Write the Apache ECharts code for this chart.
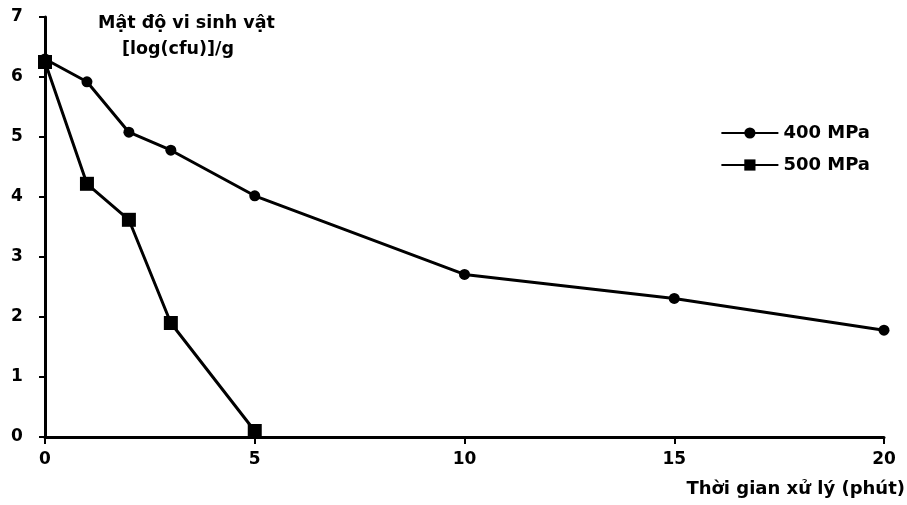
<!DOCTYPE html>
<html>
<head>
<meta charset="utf-8">
<script src="https://cdn.jsdelivr.net/npm/echarts@6/dist/echarts.min.js"></script>
<style>
  html,body{margin:0;padding:0;background:#fff;}
  #chart{width:907px;height:505px;}
</style>
</head>
<body>
<div id="chart"></div>
<script>
// thời gian xử lý (phút)
const times = [0, 1, 2, 3, 5, 10, 15, 20];
const times500 = [0, 1, 2, 3, 5];
// mật độ vi sinh vật [log(cfu)]/g
const mpa400 = [6.3, 5.92, 5.08, 4.78, 4.02, 2.71, 2.31, 1.78];
const mpa500 = [6.25, 4.22, 3.62, 1.9, 0.1];
const seriesNames = ['400 MPa', '500 MPa'];

const font = '"DejaVu Sans", sans-serif';
const chart = echarts.init(document.getElementById('chart'));

const option = {
    animation: false,
    backgroundColor: '#fff',
    textStyle: { fontFamily: font, color: '#000', fontWeight: 'bold' },
    grid: { left: 45, right: 23, top: 17, bottom: 68 },
    legend: {
        orient: 'vertical',
        right: 32,
        top: 119,
        itemWidth: 57,
        itemHeight: 14,
        itemGap: 14,
        textStyle: { fontSize: 18, fontFamily: font, fontWeight: 'bold', color: '#000' },
        data: seriesNames
    },
    graphic: [
        {
            type: 'text', left: 98, top: 14,
            style: { text: 'Mật độ vi sinh vật', font: 'bold 17.5px ' + font, fill: '#000' }
        },
        {
            type: 'text', left: 122, top: 40,
            style: { text: '[log(cfu)]/g', font: 'bold 17.5px ' + font, fill: '#000' }
        },
        {
            type: 'text', right: 2, top: 480,
            style: { text: 'Thời gian xử lý (phút)', font: 'bold 18px ' + font, fill: '#000' }
        }
    ],
    xAxis: {
        type: 'value',
        min: 0, max: 20, interval: 5,
        axisLine: { show: true, lineStyle: { color: '#000', width: 3 } },
        axisTick: { show: true, inside: false, length: 7, lineStyle: { color: '#000', width: 2 } },
        axisLabel: { fontSize: 17, fontWeight: 'bold', color: '#000', margin: 14 },
        splitLine: { show: false }
    },
    yAxis: {
        type: 'value',
        min: 0, max: 7, interval: 1,
        axisLine: { show: true, lineStyle: { color: '#000', width: 3 } },
        axisTick: { show: true, length: 6, lineStyle: { color: '#000', width: 2 } },
        axisLabel: { fontSize: 17, fontWeight: 'bold', color: '#000', margin: 34, align: 'left' },
        splitLine: { show: false }
    },
    series: [
        {
            name: seriesNames[0],
            type: 'line',
            data: times.map((t, i) => [t, mpa400[i]]),
            symbol: 'circle',
            symbolSize: 11,
            lineStyle: { color: '#000', width: 3 },
            itemStyle: { color: '#000' }
        },
        {
            name: seriesNames[1],
            type: 'line',
            data: times500.map((t, i) => [t, mpa500[i]]),
            symbol: 'rect',
            symbolSize: 14,
            lineStyle: { color: '#000', width: 3 },
            itemStyle: { color: '#000' }
        }
    ]
};

chart.setOption(option);
</script>
</body>
</html>
